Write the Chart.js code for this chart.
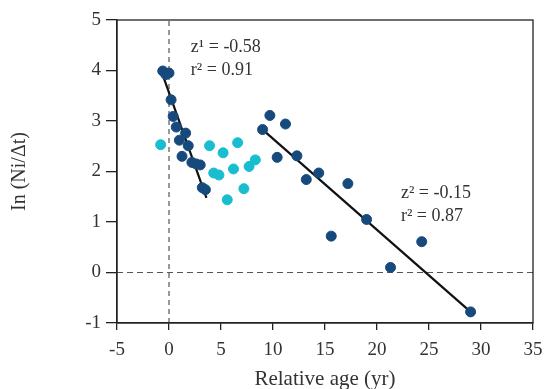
<!DOCTYPE html>
<html>
<head>
<meta charset="utf-8">
<script src="https://cdn.jsdelivr.net/npm/chart.js@4/dist/chart.umd.min.js"></script>
<style>
  html, body { margin: 0; padding: 0; background: #fff; }
  #wrap { width: 545px; height: 389px; }
</style>
</head>
<body>
<div id="wrap"><canvas id="c" width="545" height="389"></canvas></div>
<script>
// Relative age (yr) and ln(Ni/Δt) for the two point groups
const darkAge = [-0.6, -0.3, 0.0, 0.2, 0.4, 0.7, 1.0, 1.25, 1.6, 1.85, 2.2, 2.6, 3.0, 3.2, 3.5,
                 9.0, 9.7, 10.4, 11.2, 12.3, 13.2, 14.4, 15.6, 17.2, 19.0, 21.3, 24.3, 29.0];
const darkLn  = [3.99, 3.92, 3.95, 3.42, 3.09, 2.88, 2.62, 2.30, 2.76, 2.51, 2.18, 2.15, 2.13, 1.68, 1.64,
                 2.83, 3.11, 2.28, 2.94, 2.31, 1.84, 1.97, 0.72, 1.76, 1.05, 0.10, 0.61, -0.78];
const cyanAge = [-0.8, 3.9, 4.3, 4.8, 5.2, 5.6, 6.2, 6.6, 7.2, 7.7, 8.3];
const cyanLn  = [2.53, 2.51, 1.97, 1.93, 2.37, 1.44, 2.05, 2.57, 1.66, 2.10, 2.23];

// Regression segments (end points)
const fit1Age = [-0.7, 3.6];
const fit1Ln  = [3.97, 1.48];
const fit2Age = [9.0, 29.0];
const fit2Ln  = [2.83, -0.78];

// Axis ticks
const xTicks = [-5, 0, 5, 10, 15, 20, 25, 30, 35];
const yTicks = [-1, 0, 1, 2, 3, 4, 5];

// Fit statistics
const fitLabels = [
  { lines: ['z\u00B9 = -0.58', 'r\u00B2 = 0.91'], at: [2.1, 4.46] },
  { lines: ['z\u00B2 = -0.15', 'r\u00B2 = 0.87'], at: [22.3, 1.56] }
];

const pts = (xs, ys) => xs.map((x, i) => ({ x, y: ys[i] }));

const DARK = '#174a7c';
const CYAN = '#19bdd0';
const SERIF = '"Liberation Serif", "Times New Roman", serif';

const frame = {
  id: 'frame',
  afterDatasetsDraw(chart) {
    const { ctx, chartArea: a, scales } = chart;
    ctx.save();
    ctx.strokeStyle = '#222';
    ctx.lineWidth = 1.3;
    ctx.strokeRect(a.left, a.top, a.right - a.left, a.bottom - a.top);
    ctx.fillStyle = '#333';
    ctx.font = '18px ' + SERIF;
    ctx.textBaseline = 'middle';
    ctx.textAlign = 'left';
    fitLabels.forEach(l => {
      const px = scales.x.getPixelForValue(l.at[0]);
      const py = scales.y.getPixelForValue(l.at[1]);
      l.lines.forEach((t, i) => ctx.fillText(t, px, py + i * 23));
    });
    ctx.restore();
  }
};

new Chart(document.getElementById('c'), {
  type: 'scatter',
  data: {
    datasets: [
      { data: [{ x: 0, y: -1 }, { x: 0, y: 5 }], showLine: true, borderColor: '#333', borderWidth: 1,
        borderDash: [5, 4], pointRadius: 0, order: 5 },
      { data: [{ x: -5, y: 0 }, { x: 35, y: 0 }], showLine: true, borderColor: '#555', borderWidth: 1,
        borderDash: [6, 4], pointRadius: 0, order: 5 },
      { data: pts(cyanAge, cyanLn), backgroundColor: CYAN, borderColor: CYAN, pointRadius: 5, order: 3 },
      { data: pts(fit1Age, fit1Ln), showLine: true, borderColor: '#111', borderWidth: 2.2, pointRadius: 0, order: 2 },
      { data: pts(fit2Age, fit2Ln), showLine: true, borderColor: '#111', borderWidth: 2.2, pointRadius: 0, order: 2 },
      { data: pts(darkAge, darkLn), backgroundColor: DARK, borderColor: DARK, pointRadius: 5, order: 1 }
    ]
  },
  options: {
    responsive: false,
    animation: false,
    events: [],
    layout: { padding: { top: 20, right: 12, left: 0, bottom: 0 } },
    plugins: { legend: { display: false }, tooltip: { enabled: false } },
    scales: {
      x: {
        type: 'linear', min: -5, max: 35,
        afterBuildTicks: s => { s.ticks = xTicks.map(v => ({ value: v })); },
        afterFit: s => { s.height = 66; s.paddingLeft = 0; s.paddingRight = 0; },
        grid: { drawOnChartArea: false, drawTicks: true, tickLength: 7, color: '#222', lineWidth: 1.3 },
        border: { display: true, color: '#222', width: 1.3 },
        ticks: { color: '#333', font: { family: SERIF, size: 19 }, padding: 9, maxRotation: 0 },
        title: { display: true, text: 'Relative age (yr)', color: '#333',
                 font: { family: SERIF, size: 21, lineHeight: 1 }, padding: { top: 0, bottom: -1 } }
      },
      y: {
        type: 'linear', min: -1, max: 5,
        afterBuildTicks: s => { s.ticks = yTicks.map(v => ({ value: v })); },
        afterFit: s => { s.width = 117; s.paddingTop = 0; s.paddingBottom = 0; },
        grid: { drawOnChartArea: false, drawTicks: true, tickLength: 11, color: '#222', lineWidth: 1.3 },
        border: { display: true, color: '#222', width: 1.3 },
        ticks: { color: '#333', font: { family: SERIF, size: 19 }, padding: 5 },
        title: { display: true, text: 'In (Ni/\u0394t)', color: '#333',
                 font: { family: SERIF, size: 20, lineHeight: 1 }, padding: { top: 10, bottom: 0 } }
      }
    }
  },
  plugins: [frame]
});
</script>
</body>
</html>
